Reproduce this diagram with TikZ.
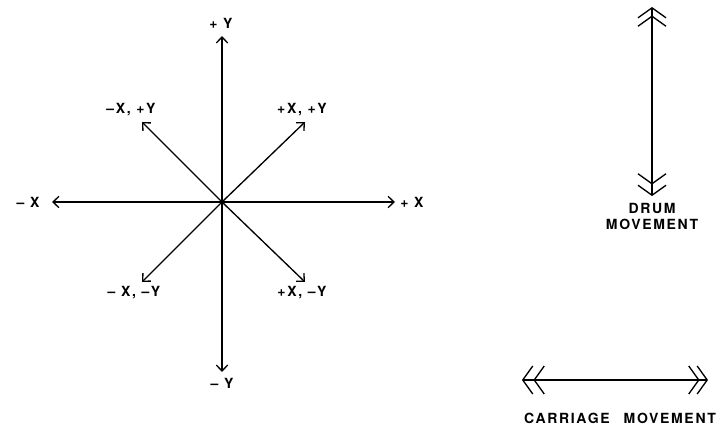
\documentclass[tikz,border=0pt]{standalone}
\usepackage{fontspec}
\setsansfont{TeX Gyre Heros}[LetterSpace=12]
\usetikzlibrary{arrows.meta,positioning}

\begin{document}
\begin{tikzpicture}[x=0.75pt, y=-0.75pt,
    every node/.style={font=\sffamily\bfseries\fontsize{10.5}{12}\selectfont, inner sep=1pt},
    axis/.style={line width=1pt, -{Straight Barb[length=4.5pt,width=8.5pt,line width=1pt]}},
    twohead/.style={line width=0.8pt,
        {Straight Barb[length=7.5pt,width=21pt,line width=1pt,sep=-2.3pt]Straight Barb[length=7.5pt,width=21pt,line width=1pt]}-{Straight Barb[length=7.5pt,width=21pt,line width=1pt,sep=-2.3pt]Straight Barb[length=7.5pt,width=21pt,line width=1pt]}}]
    \useasboundingbox (0,0) rectangle (718,428);

    % Axes
    \coordinate (o) at (222,202);
    \coordinate (py) at (222,36);
    \coordinate (my) at (222,372);
    \coordinate (mx) at (52,202);
    \coordinate (px) at (395,202);
    \coordinate (pxpy) at (305,122);
    \coordinate (mxpy) at (142,122);
    \coordinate (mxmy) at (142,282);
    \coordinate (pxmy) at (305,282);
    \fill (o) circle (2.2);
    \foreach \t in {py,my,mx,px,pxpy,mxpy,mxmy,pxmy}
        \draw[axis] (o) -- (\t);

    % Labels
    \node (lpy) at (221,23) {+ Y};
    \node (lmy) at (222,383) {\textendash\ Y};
    \node (lmx) at (28,202) {\textendash\ X};
    \node (lpx) at (412,202) {+ X};
    \node (lmxpy) at (131,110) {\textendash X, +Y};
    \node (lpxpy) at (302,110) {+X, +Y};
    \node (lmxmy) at (134,293) {\textendash\ X, \textendash Y};
    \node (lpxmy) at (302,293) {+X, \textendash Y};

    % Drum
    \coordinate (dtop) at (652,7);
    \coordinate (dbot) at (652,193);
    \draw[twohead] (dbot) -- (dtop);
    \node (drum) at (652,208) {DRUM};
    \node (drummv) at (652,224) {MOVEMENT};

    % Carriage
    \coordinate (cl) at (525,380);
    \coordinate (cr) at (708,380);
    \draw[twohead] (cl) -- (cr);
    \node (carr) at (620,418) {CARRIAGE\quad MOVEMENT};
\end{tikzpicture}
\end{document}
